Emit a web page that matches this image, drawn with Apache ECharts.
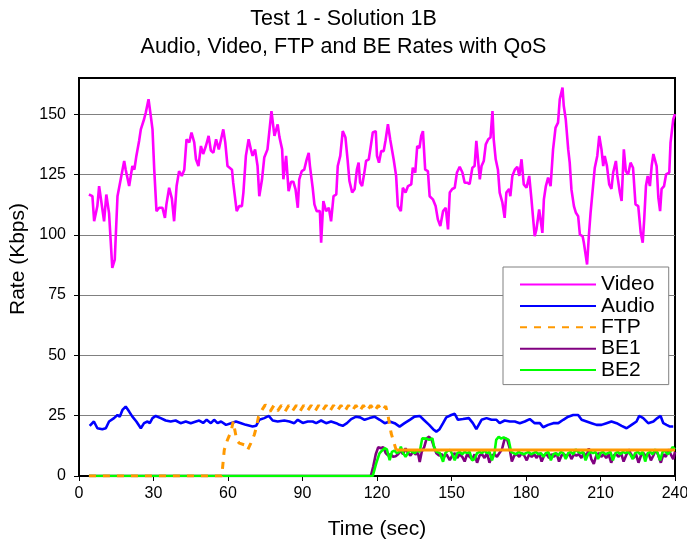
<!DOCTYPE html>
<html>
<head>
<meta charset="utf-8">
<script src="https://cdn.jsdelivr.net/npm/echarts@6/dist/echarts.min.js"></script>
<style>
  html, body { margin: 0; padding: 0; background: #fff; }
  #chart { width: 687px; height: 544px; }
</style>
</head>
<body>
<div id="chart"></div>
<script>
// tick labels
const xTicks = [0, 30, 60, 90, 120, 150, 180, 210, 240];
const yTicks = [0, 25, 50, 75, 100, 125, 150];

// [time (sec), rate (Kbps)]
const video = [
  [4,116.7],[5.4,116],[6.1,105.6],[7.4,111.9],[8.1,120.2],[8.9,120.9],[10.1,105.6],[11,116.7],[12.1,109],
  [13.4,86.3],[14.4,89.7],[15.5,116],[16.1,116.7],[16.8,123],[18.2,130.6],[18.8,127],[20.2,120.2],[21.5,128.5],
  [22.3,127],[23.1,132.7],[24.2,138.9],[24.9,143.7],[26.2,147.9],[26.9,150.7],[28,156.2],[28.6,157],[28.9,149.3],
  [29.6,143.7],[30.3,127],[31.2,109.8],[32.3,111.2],[33.6,111.2],[34.6,107],[35.2,112.6],[36.3,119.5],[37.4,115],
  [38.3,105.6],[39.3,120.2],[40.3,126.4],[41.4,124.4],[42.4,127],[43.3,139.6],[44.4,138.3],[45.3,142.4],[46.4,138.3],
  [47.1,131.3],[48.1,128.5],[49.1,136.8],[50,133.5],[51.1,136.8],[52.2,141],[53.1,134.9],[54.1,134],[55.2,139.6],
  [56.3,135.4],[57.2,139.6],[58.1,143.7],[58.9,138.3],[59.8,128.5],[61.6,127],[62.1,121.6],[63.5,109.8],[64.5,111.9],
  [65.6,111.9],[66.2,117.5],[67.2,132.7],[68.3,139.6],[69.2,135.4],[69.9,132.7],[70.9,135.4],[71.9,128.5],[72.6,116],
  [73.7,123],[74.6,132],[75.9,135.4],[76.6,136],[77.5,151.3],[78.7,141],[80,145.8],[80.7,140.6],[81.8,135.4],
  [82.3,123],[83.4,132.7],[84.4,118.1],[85.4,122],[86.3,122],[87.2,118.8],[88.1,111.2],[88.7,123],[89.7,126.4],
  [90.7,127],[91.7,131.3],[92.5,134],[93,128.5],[94.1,119.5],[94.8,112.6],[95.7,109.8],[97,109.8],[97.5,96.7],
  [98.4,114],[99.5,109.8],[100.6,111.2],[101.5,105.6],[102.5,116],[103.6,116.7],[104.2,128.5],[105.2,132.7],
  [106.2,143],[107.3,140.3],[108.2,130.6],[108.9,122.3],[110,117.5],[111,119],[111.9,127],[112.6,129.9],
  [113.2,121.6],[114,120.2],[115,126.4],[115.6,130.6],[116.7,131.3],[117.6,137.5],[118.3,142.4],[119.5,143],
  [120,132.7],[120.8,129.9],[121.7,134.7],[122.7,134.7],[123.4,138.9],[124.4,145.8],[125.3,139.6],[126.7,131.3],
  [127.7,124.4],[128.4,111.9],[129.6,109.8],[130.4,119.5],[131.5,117.5],[132.5,120.2],[133.8,120.9],[134.4,127.8],
  [135.4,125.8],[136.2,136.8],[137.1,136],[137.8,141],[138.5,143],[139.4,127],[140.5,126.4],[141.2,116],
  [142.5,114.7],[143.6,111.9],[144.5,106.4],[145.5,103.6],[146.6,109.8],[147.7,111.2],[148.6,102.2],[149.3,117.5],
  [150.3,119],[151.3,119.5],[152.2,125.8],[153.3,128.2],[154.4,125.8],[155.3,121.6],[156.3,121.6],[157.3,121],
  [158.4,127.8],[159.3,128.5],[160,138.9],[160.7,139.6],[161.4,123],[162.1,128.5],[163,130.6],[163.8,137.5],
  [164.8,139.6],[165.7,140.3],[166.5,151.3],[167,139.6],[167.8,131.3],[168.7,127],[169.4,117.5],[170.5,113.3],
  [171.4,107],[172.1,117.5],[173.2,119],[173.7,116],[174.5,124.4],[175.5,127],[176.5,128.2],[177.3,124.4],
  [178.2,131.3],[179.1,120.9],[180.2,119.5],[181.3,124.4],[182.2,114.7],[182.9,106.4],[183.5,99.4],[184.2,102.2],
  [185.3,110.5],[185.8,111.2],[186.6,100.8],[187.2,114.7],[188,120.2],[188.9,123.7],[189.9,120.2],[190.9,135.4],
  [191.9,144.4],[192.9,146.5],[193.6,156.2],[194.7,161],[195.2,153.5],[196,147.9],[197,135.4],[197.6,129.9],
  [198.3,118.8],[199.3,111.9],[200.1,109.1],[201,107.7],[201.7,100.1],[202.8,99.4],[203.3,96.7],[204,96.7],
  [204.6,87.7],[205.3,99.4],[206,109.1],[207,120.2],[207.7,127.8],[208.7,132.7],[209.5,141],[210.4,135.4],
  [211.1,128.5],[211.7,132.7],[212.6,128.5],[213.5,120.9],[214.4,119],[215.1,125.8],[216.2,130.6],[216.8,124.4],
  [217.8,117.5],[218.5,114],[219.4,135.4],[220.2,126.4],[221.1,125],[222.1,129.9],[223.1,127.8],[224.1,112.6],
  [225.2,111.9],[226.2,100.8],[227,96.7],[227.6,106.4],[228.3,120.2],[229,124.4],[229.9,120.2],[230.6,128.5],
  [231.3,133.5],[232,134.2],[232.6,128.5],[233.3,115.4],[234,109.8],[234.6,119],[235.6,120.2],[236.4,125],
  [237.7,125.8],[238.2,138.2],[239.3,147.9],[240,150]
];

const audio = [
  [4.3,20.8],[6,22.6],[7.4,19.8],[9.4,19.4],[10.8,19.8],[12.1,22.6],[14.1,24],[15.5,25.3],[16.4,24.6],[17.5,27.4],
  [18.8,28.8],[20.2,26.7],[21.5,24.6],[23.1,22.6],[24.9,19.8],[26.2,21.9],[27.6,22.6],[28.5,21.9],[29.6,24],
  [30.9,24.9],[32.9,24],[34.9,23],[36.9,22.6],[38.9,23],[40.9,21.9],[43,22.6],[45,21.9],[47.1,22.6],[48.4,23],
  [50,22],[51.4,23.3],[53.1,21.9],[54.4,23.3],[55.8,21.9],[57.2,22.6],[59.2,21.2],[61.2,21.9],[63.2,22.6],
  [65.3,21.9],[67.2,21.2],[69.9,20.5],[71.3,20.8],[72.6,23.3],[74.6,24],[76.4,24.9],[78,23],[80,22.6],
  [80.7,21.9],[82.7,23],[84.7,22.6],[86.7,21.9],[88.1,23.3],[90.1,22],[92.1,22.6],[94.1,22.6],[95.5,21.9],
  [97.5,23],[99.5,21.9],[101.5,22.6],[103.6,21.9],[104.9,21.2],[106.2,20.8],[107.9,21.9],[109.6,23.6],
  [111.6,24.6],[113.2,24.3],[115,23.3],[117,24],[119,24.6],[121.1,23.3],[123.1,21.9],[125.1,22.6],[127.1,21.9],
  [129.1,20.5],[131.1,21.9],[133.2,23.3],[135.1,24.6],[137.2,24.9],[138.8,23.3],[141,21.2],[142.6,19.4],
  [143.9,18.4],[145.2,19.4],[146.6,21.9],[147.9,24.3],[149.9,25.3],[151.3,25.8],[152.6,23.3],[154.6,23.6],
  [157,24],[158.6,21.9],[160,19.4],[162.1,23.3],[164.1,24],[166.1,23.3],[168.1,23.3],[169.4,21.9],[171.4,23],
  [173.5,22.6],[175.5,22.6],[177.5,21.9],[179.5,22.6],[181.5,23.6],[183.5,21.9],[185.6,21.9],[186.9,20.2],
  [188.9,21.2],[191,21.9],[193,21.9],[195,23.3],[197,24.6],[199,25.3],[201,25.3],[202.4,23.3],[204.4,22.6],
  [206.4,21.9],[208.4,21.2],[210.4,21.2],[212.4,21.9],[214.4,22.6],[216.5,21.9],[218.5,20.8],[220.5,19.8],
  [222.5,21.2],[224.5,22.6],[225.6,24.9],[227.2,24],[229.2,21.9],[231.3,22.6],[232.9,24],[234.2,24.9],
  [235.3,21.9],[236.6,21.2],[238,20.5],[239.3,20.5]
];

const ftp = [
  [4,0],[57.5,0],[58.5,10.8],[59.8,15],[61.2,18.4],[62.1,22.6],[62.9,22],[63.5,15],[64.5,13.6],[66.6,12.9],
  [67.9,10.8],[69.2,13.6],[70.6,17.1],[71.3,19.8],[72.3,24.6],[73.7,27.4],[75,29.5],[76,28.3],[77,26.8],
  [78.5,29.3],[80,27],[81.5,29.3],[83,26.8],[84.5,29.3],[86,27],[87.5,29.3],[89,26.8],[90.5,29.3],[92,27],
  [93.5,29.3],[95,26.8],[96.5,29.3],[98,27],[99.5,29.3],[101,26.8],[102.5,29.3],[104,27],[105.5,29.3],
  [107,26.8],[108.5,29.3],[110,27],[111.5,29.3],[113,26.8],[114.5,29.3],[116,27],[117.5,29.3],[119,26.8],
  [120.5,29.3],[122,27],[123.5,29],[124.4,25.3],[125.7,17.7],[127.1,12.9],[127.7,10.8]
];
const ftpTail = [[127.7,10.8],[240,10.8]];

const be1 = [
  [4,0],[117.5,0],[118.5,4],[119.5,9],[120.5,12],[121.5,11.5],[122.5,12],[123.5,9.5],[124.5,8.5],[125.5,9],
  [126.5,8],[127.5,8.2],[128.5,9],[129.5,10.5],[130.5,9],[131.5,11.5],[132.5,9.5],[133.5,8.5],[134.5,10],
  [135.5,9],[136.5,9.5],[137.2,5.8],[138,10],[139,12],[140,15.6],[141,16.3],[142,15],[143,12],[143.9,9.4],
  [145,8.5],[146,9],[147,8],[148,9],[149.3,6.6],[150.3,8.5],[151.3,9.5],[152.3,7.5],[153.3,9],[154.3,8],
  [155.3,6],[156.3,9],[157.3,8],[158.3,7],[159.3,9],[160.3,5.5],[161.3,8.5],[162.3,9],[163.3,7.5],[164.3,9.5],
  [165.3,5.5],[166.3,8.5],[167.3,9],[168.3,8],[169.3,9.5],[170.3,11],[171.3,15],[172.3,15.5],[173.3,12],
  [174.3,6],[175.3,8.5],[176.3,9],[177.3,8],[178.3,9.5],[179.3,8.5],[180.3,6.5],[181.3,9],[182.3,8],[183.3,9],
  [184.3,7.5],[185.3,9.5],[186.3,6],[187.3,8.5],[188.3,9],[189.3,7.5],[190.3,9],[191.3,8],[192.3,9.5],
  [193.3,6],[194.3,8.5],[195.3,9],[196.3,8],[197.3,9.5],[198.3,7],[199.3,9],[200.3,8.5],[201.3,9],[202.3,7.5],
  [203.3,9.5],[204.3,8],[205.3,11.5],[206.3,7],[207.3,5],[208.3,8.5],[209.3,9.5],[210.3,8],[211.3,9],
  [212.3,7.5],[213.3,9],[214.3,5.5],[215.3,8.5],[216.3,9],[217.3,8],[218.3,9.5],[219.3,6],[220.3,8.5],
  [221.3,11],[222.3,9],[223.3,7.5],[224.3,9],[225.3,5.5],[226.3,8.5],[227.3,9.5],[228.3,8],[229.3,9.5],
  [230.3,6.5],[231.3,8.5],[232.3,11],[233.3,8.5],[234.3,5.5],[235.3,9],[236.3,8],[237.3,11],[238.3,9],
  [239.3,7],[240,10]
];

const be2 = [
  [4,0],[118.3,0],[119.7,5.3],[121,9.4],[122,10.5],[123.1,11.5],[124,11],[125.1,6.6],[126,10],[127,10.5],
  [128,9.5],[129,10],[129.6,12.2],[130.5,9.5],[131.5,8],[132.3,8.5],[133.2,10.8],[134.2,10],[135.2,9.5],
  [136.2,10.8],[137.2,10],[138.2,15.6],[139,16],[140,15.5],[141,15],[142.3,15.6],[143,12],[144,10],[145.3,9.5],
  [146.6,5.9],[147.5,9.5],[148.5,10.5],[149.5,10.8],[150.5,8.5],[151.3,6.5],[152.3,9.5],[153.3,10],[154.3,9],
  [155.3,10],[156.3,9.5],[157.3,10],[158.3,6.5],[159.3,7],[160.3,9.5],[161.3,10],[162.3,9.5],[163.3,10.5],
  [164.3,9.5],[165.3,10],[166.3,6.5],[167.3,9.5],[168,15],[169,16.3],[170,15.5],[171,16],[172,15.5],[173,15],
  [174,10],[175,9.5],[176,9],[177,10],[178,9.5],[179,9],[180,9.5],[181,10],[182,9],[183,9.5],[184,10],[185,9],
  [186,9.5],[187,8],[188,9.5],[189,10],[190,6.5],[191,9],[192,9.5],[193,8.5],[194,10],[195,9.5],[196,7],
  [197,9.5],[198,10],[199,9],[200,11],[201,10],[202,9.5],[203,10],[204,6.5],[205,9],[206,10],[207,9.5],
  [208,10],[209,7],[210,9.5],[211,10],[212,9],[213,9.5],[214,10],[215,6.5],[216,9.5],[217,10],[218,9],
  [219,10],[220,9.5],[221,10],[222,9],[223,7],[224,9.5],[225,10],[226,9],[227,10],[228,6],[229,9.5],[230,10],
  [231,9],[232,11],[233,9.5],[234,6.5],[235,10],[236,10.5],[237,9],[238,10],[239,12],[240,11]
];

const font = 'Liberation Sans, Arial, sans-serif';

const chart = echarts.init(document.getElementById('chart'));

function line(name, data, color, extra) {
  return Object.assign({
    name: name,
    type: 'line',
    data: data,
    showSymbol: false,
    symbol: 'none',
    lineStyle: { color: color, width: 2.6 },
    itemStyle: { color: color }
  }, extra || {});
}

chart.setOption({
  animation: false,
  backgroundColor: '#fff',
  title: {
    text: 'Test 1 - Solution 1B\nAudio, Video, FTP and BE Rates with QoS',
    left: 'center',
    top: 5,
    padding: 0,
    textStyle: { fontFamily: font, fontSize: 21.5, fontWeight: 'normal', color: '#000', lineHeight: 28 }
  },
  grid: {
    left: 79, right: 12, top: 78, bottom: 68,
    outerBoundsMode: 'none',
    containLabel: false,
    show: true, borderColor: '#000', borderWidth: 2
  },
  legend: {
    data: ['Video', 'Audio', 'FTP', 'BE1', 'BE2'],
    orient: 'vertical',
    left: 503,
    top: 267,
    itemWidth: 76,
    itemHeight: 14,
    itemGap: 0.4,
    padding: [7, 14, 4, 16],
    backgroundColor: '#fff',
    borderColor: '#808080',
    borderWidth: 1,
    borderRadius: 0,
    itemStyle: { opacity: 0 },
    textStyle: { fontFamily: font, fontSize: 21, lineHeight: 20, color: '#000' }
  },
  xAxis: {
    type: 'value',
    min: 0, max: 240, interval: 30,
    name: 'Time (sec)',
    nameLocation: 'middle',
    nameGap: 43,
    nameTextStyle: { fontFamily: font, fontSize: 21, color: '#000' },
    axisLine: { lineStyle: { color: '#000', width: 2 } },
    axisTick: { show: true, inside: false, length: 5, lineStyle: { color: '#000', width: 1 } },
    axisLabel: { fontFamily: font, fontSize: 16, color: '#000', margin: 10, customValues: xTicks },
    splitLine: { show: false }
  },
  yAxis: {
    type: 'value',
    min: 0, max: 165, interval: 25,
    name: 'Rate (Kbps)',
    nameLocation: 'middle',
    nameGap: 50,
    nameTextStyle: { fontFamily: font, fontSize: 21, color: '#000', padding: [0, 0, 0, 36] },
    axisLine: { show: true, lineStyle: { color: '#000', width: 2 } },
    axisTick: { show: true, inside: false, length: 5, lineStyle: { color: '#000', width: 1 }, customValues: yTicks },
    axisLabel: { fontFamily: font, fontSize: 16, color: '#000', margin: 13, customValues: yTicks },
    splitLine: { show: true, lineStyle: { color: '#808080', width: 1 } }
  },
  series: [
    line('Video', video, '#ff00ff'),
    line('Audio', audio, '#0000ff'),
    line('BE1', be1, '#800080'),
    line('BE2', be2, '#00ff00'),
    line('FTP', ftp, '#ff9900', { lineStyle: { color: '#ff9900', width: 3, type: [7, 7] } }),
    line('FTP', ftpTail, '#ff9900', { lineStyle: { color: '#ff9900', width: 3 } })
  ]
});
</script>
</body>
</html>
